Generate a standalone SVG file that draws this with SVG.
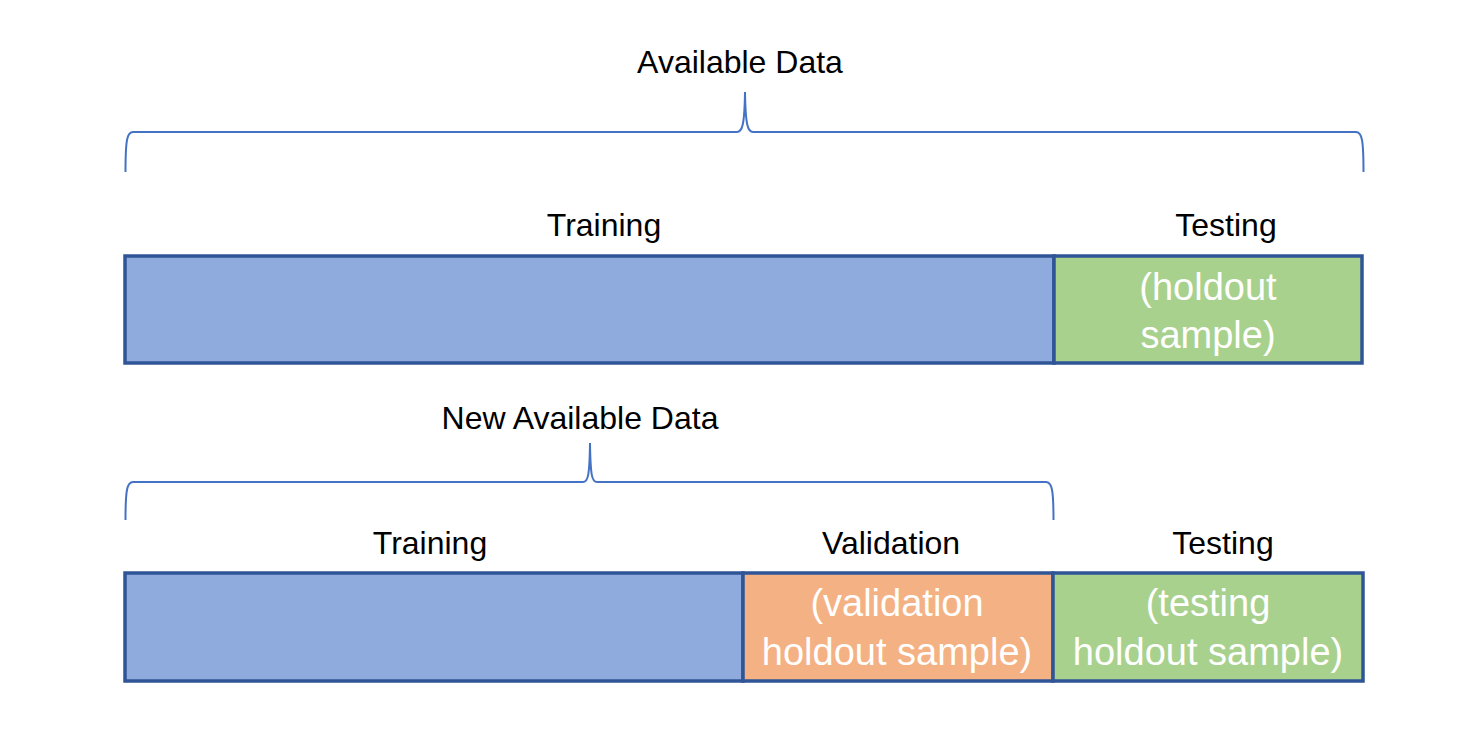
<svg xmlns="http://www.w3.org/2000/svg" width="1466" height="744" viewBox="0 0 1466 744">
<style>
.bg{fill:#ffffff}
.lbl{font-family:"Liberation Sans",Arial,sans-serif;font-size:32px;fill:#000000;text-anchor:middle}
.in{font-family:"Liberation Sans",Arial,sans-serif;font-size:38px;fill:#ffffff;text-anchor:middle}
.brace{fill:none;stroke:#4472C4;stroke-width:2}
.seg{stroke:#2F5597;stroke-width:3.5}
.blue{fill:#8FAADC}
.green{fill:#A9D18E}
.orange{fill:#F4B183}
</style>
<rect class="bg" x="0" y="0" width="1466" height="744"/>
<g id="connectors">
<path class="brace" d="M125.5,172 C125.5,140 127,132 133,132 L737,132 C742,132 744.5,126 745,92 C745.5,126 748,132 753,132 L1356,132 C1362,132 1363.5,140 1363.5,172"/>
<path class="brace" d="M125.5,520 C125.5,490 127,482 133,482 L583,482 C588,482 589.5,476 590,443 C590.5,476 592,482 597,482 L1046,482 C1052,482 1053.5,490 1053.5,520"/>
</g>
<g id="label-available">
<text class="lbl" x="740" y="73">Available Data</text>
</g>
<g id="top-training">
<text class="lbl" x="604" y="236">Training</text>
<rect class="blue seg" x="125" y="256" width="929" height="107"/>
</g>
<g id="top-testing">
<text class="lbl" x="1226" y="236">Testing</text>
<rect class="green seg" x="1054" y="256" width="308" height="107"/>
<text class="in" x="1208" y="300">(holdout</text>
<text class="in" x="1208" y="348">sample)</text>
</g>
<g id="label-new-available">
<text class="lbl" x="580" y="429">New Available Data</text>
</g>
<g id="bottom-training">
<text class="lbl" x="430" y="554">Training</text>
<rect class="blue seg" x="125" y="573" width="618" height="108"/>
</g>
<g id="bottom-validation">
<text class="lbl" x="891" y="554">Validation</text>
<rect class="orange seg" x="743" y="573" width="310" height="108"/>
<text class="in" x="897" y="616">(validation</text>
<text class="in" x="897" y="665">holdout sample)</text>
</g>
<g id="bottom-testing">
<text class="lbl" x="1223" y="554">Testing</text>
<rect class="green seg" x="1053" y="573" width="310" height="108"/>
<text class="in" x="1208" y="616">(testing</text>
<text class="in" x="1208" y="665">holdout sample)</text>
</g>
</svg>
